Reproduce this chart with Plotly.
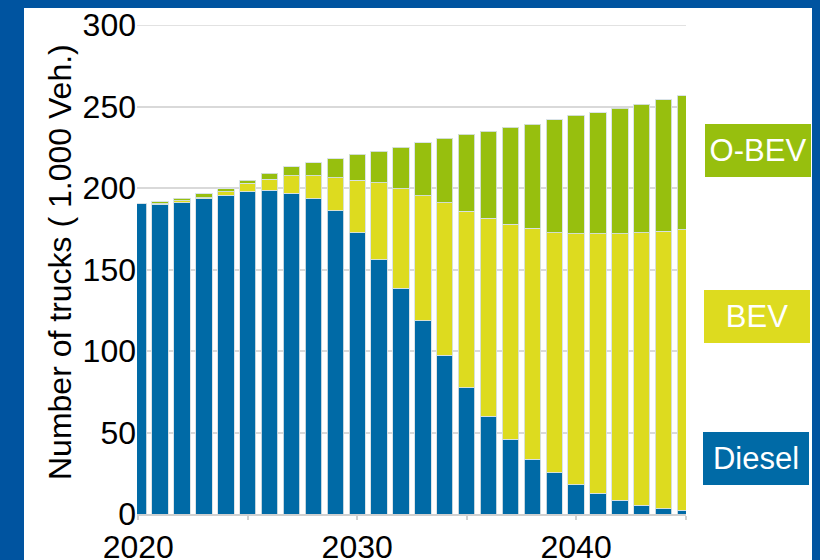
import plotly.graph_objects as go

years = [2020, 2021, 2022, 2023, 2024, 2025, 2026, 2027, 2028, 2029, 2030, 2031, 2032,
         2033, 2034, 2035, 2036, 2037, 2038, 2039, 2040, 2041, 2042, 2043, 2044, 2045]
diesel = [190.3, 190.0, 191.0, 193.3, 195.6, 197.8, 198.6, 196.8, 193.4, 185.9, 172.6, 156.1, 138.4,
          118.5, 97.4, 77.5, 59.9, 45.8, 33.7, 25.2, 18.0, 12.7, 8.4, 5.5, 3.1, 2.3]
bev = [0.0, 0.4, 1.1, 0.7, 2.0, 5.2, 6.9, 10.7, 14.1, 20.5, 32.2, 47.2, 61.2,
       76.8, 93.5, 108.2, 121.4, 132.0, 141.6, 147.4, 153.8, 159.1, 163.4, 167.1, 170.5, 172.1]
obev = [0.0, 1.3, 1.6, 2.4, 1.9, 1.8, 3.7, 5.4, 7.9, 11.7, 15.9, 19.1, 25.4,
        32.4, 39.5, 47.4, 53.5, 59.6, 63.9, 69.3, 72.8, 74.4, 77.1, 78.9, 80.6, 82.2]

series_names = ["Diesel", "BEV", "O-BEV"]
x_tick_vals = [2020, 2025, 2030, 2035, 2040, 2045]
x_tick_text = ["2020", "", "2030", "", "2040", ""]
y_tick_vals = [0, 50, 100, 150, 200, 250, 300]
y_title = "Number of trucks ( 1.000 Veh.)"

C_DIESEL = "#006aa6"
C_BEV = "#dddb1f"
C_OBEV = "#97bf0e"
C_FRAME = "#0054a0"
C_GRID = "#d9d9d9"
FONT = "Liberation Sans, Arial, sans-serif"

OFF = 8  # page body margin
W, H = 820, 560
L, T = 137 - OFF, 25 - OFF
PW, PH = 549, 489
R = W - L - PW
B = H - T - PH

def px_to_paper(xp, yp):
    # xp, yp: page pixel coords
    return (xp - OFF - L) / PW, (T + PH - (yp - OFF)) / PH

fig = go.Figure()
for name, vals, col in zip(series_names, [diesel, bev, obev], [C_DIESEL, C_BEV, C_OBEV]):
    fig.add_trace(go.Bar(
        x=years, y=vals, name=name,
        marker=dict(color=col, line=dict(color="rgba(215,225,230,0.9)", width=1)),
        showlegend=False,
    ))

fig.update_layout(
    width=W, height=H,
    barmode="stack", bargap=0.25,
    margin=dict(l=L, r=R, t=T, b=B, pad=0, autoexpand=False),
    paper_bgcolor=C_FRAME,
    plot_bgcolor="white",
    font=dict(family=FONT, size=32, color="black"),
    xaxis=dict(
        range=[2019.94, 2045.02], automargin=False,
        tickvals=x_tick_vals, ticktext=x_tick_text,
        ticks="outside", ticklen=4, tickwidth=1.5, tickcolor="#d0d0d0",
        showline=True, linecolor="#d0d0d0", linewidth=1.5,
        showgrid=False, zeroline=False, ticklabeloverflow="allow",
        tickfont=dict(size=32, color="black"),
    ),
    yaxis=dict(
        range=[0, 300], automargin=False,
        tickvals=y_tick_vals, ticklabeloverflow="allow",
        showgrid=True, gridcolor=C_GRID, gridwidth=1.5,
        zeroline=False, showline=False, ticks="",
        tickfont=dict(size=32, color="black"),
    ),
)

# white panel inside the blue frame
x0, y0 = px_to_paper(24, 580)
x1, y1 = px_to_paper(817, 8)
fig.add_shape(type="rect", xref="paper", yref="paper", x0=x0, y0=y0, x1=x1, y1=y1,
              fillcolor="white", line=dict(width=0), layer="below")

# top gridline (plotly drops the grid line at the range end)
fig.add_shape(type="line", xref="paper", yref="y", x0=0, x1=1,
              y0=y_tick_vals[-1], y1=y_tick_vals[-1],
              line=dict(color=C_GRID, width=1.5), layer="below")

# y-axis title
tx, ty = px_to_paper(60, 262)
fig.add_annotation(xref="paper", yref="paper", x=tx, y=ty, xanchor="center", yanchor="middle",
                   text=y_title, textangle=-90, showarrow=False,
                   font=dict(size=32, color="black", family=FONT))

# legend boxes
for name, col, (cx, cy) in zip(series_names, [C_DIESEL, C_BEV, C_OBEV],
                               [(756, 458.5), (757, 316.5), (758, 150.5)]):
    ax, ay = px_to_paper(cx, cy)
    fig.add_annotation(
        xref="paper", yref="paper", x=ax, y=ay, xanchor="center", yanchor="middle",
        text=name, showarrow=False, bgcolor=col, bordercolor=col, borderwidth=1, borderpad=1,
        width=102, height=49, font=dict(size=31, color="white", family=FONT),
    )

fig.write_html("out.html", post_script="document.body.style.background='%s';" % C_FRAME)
